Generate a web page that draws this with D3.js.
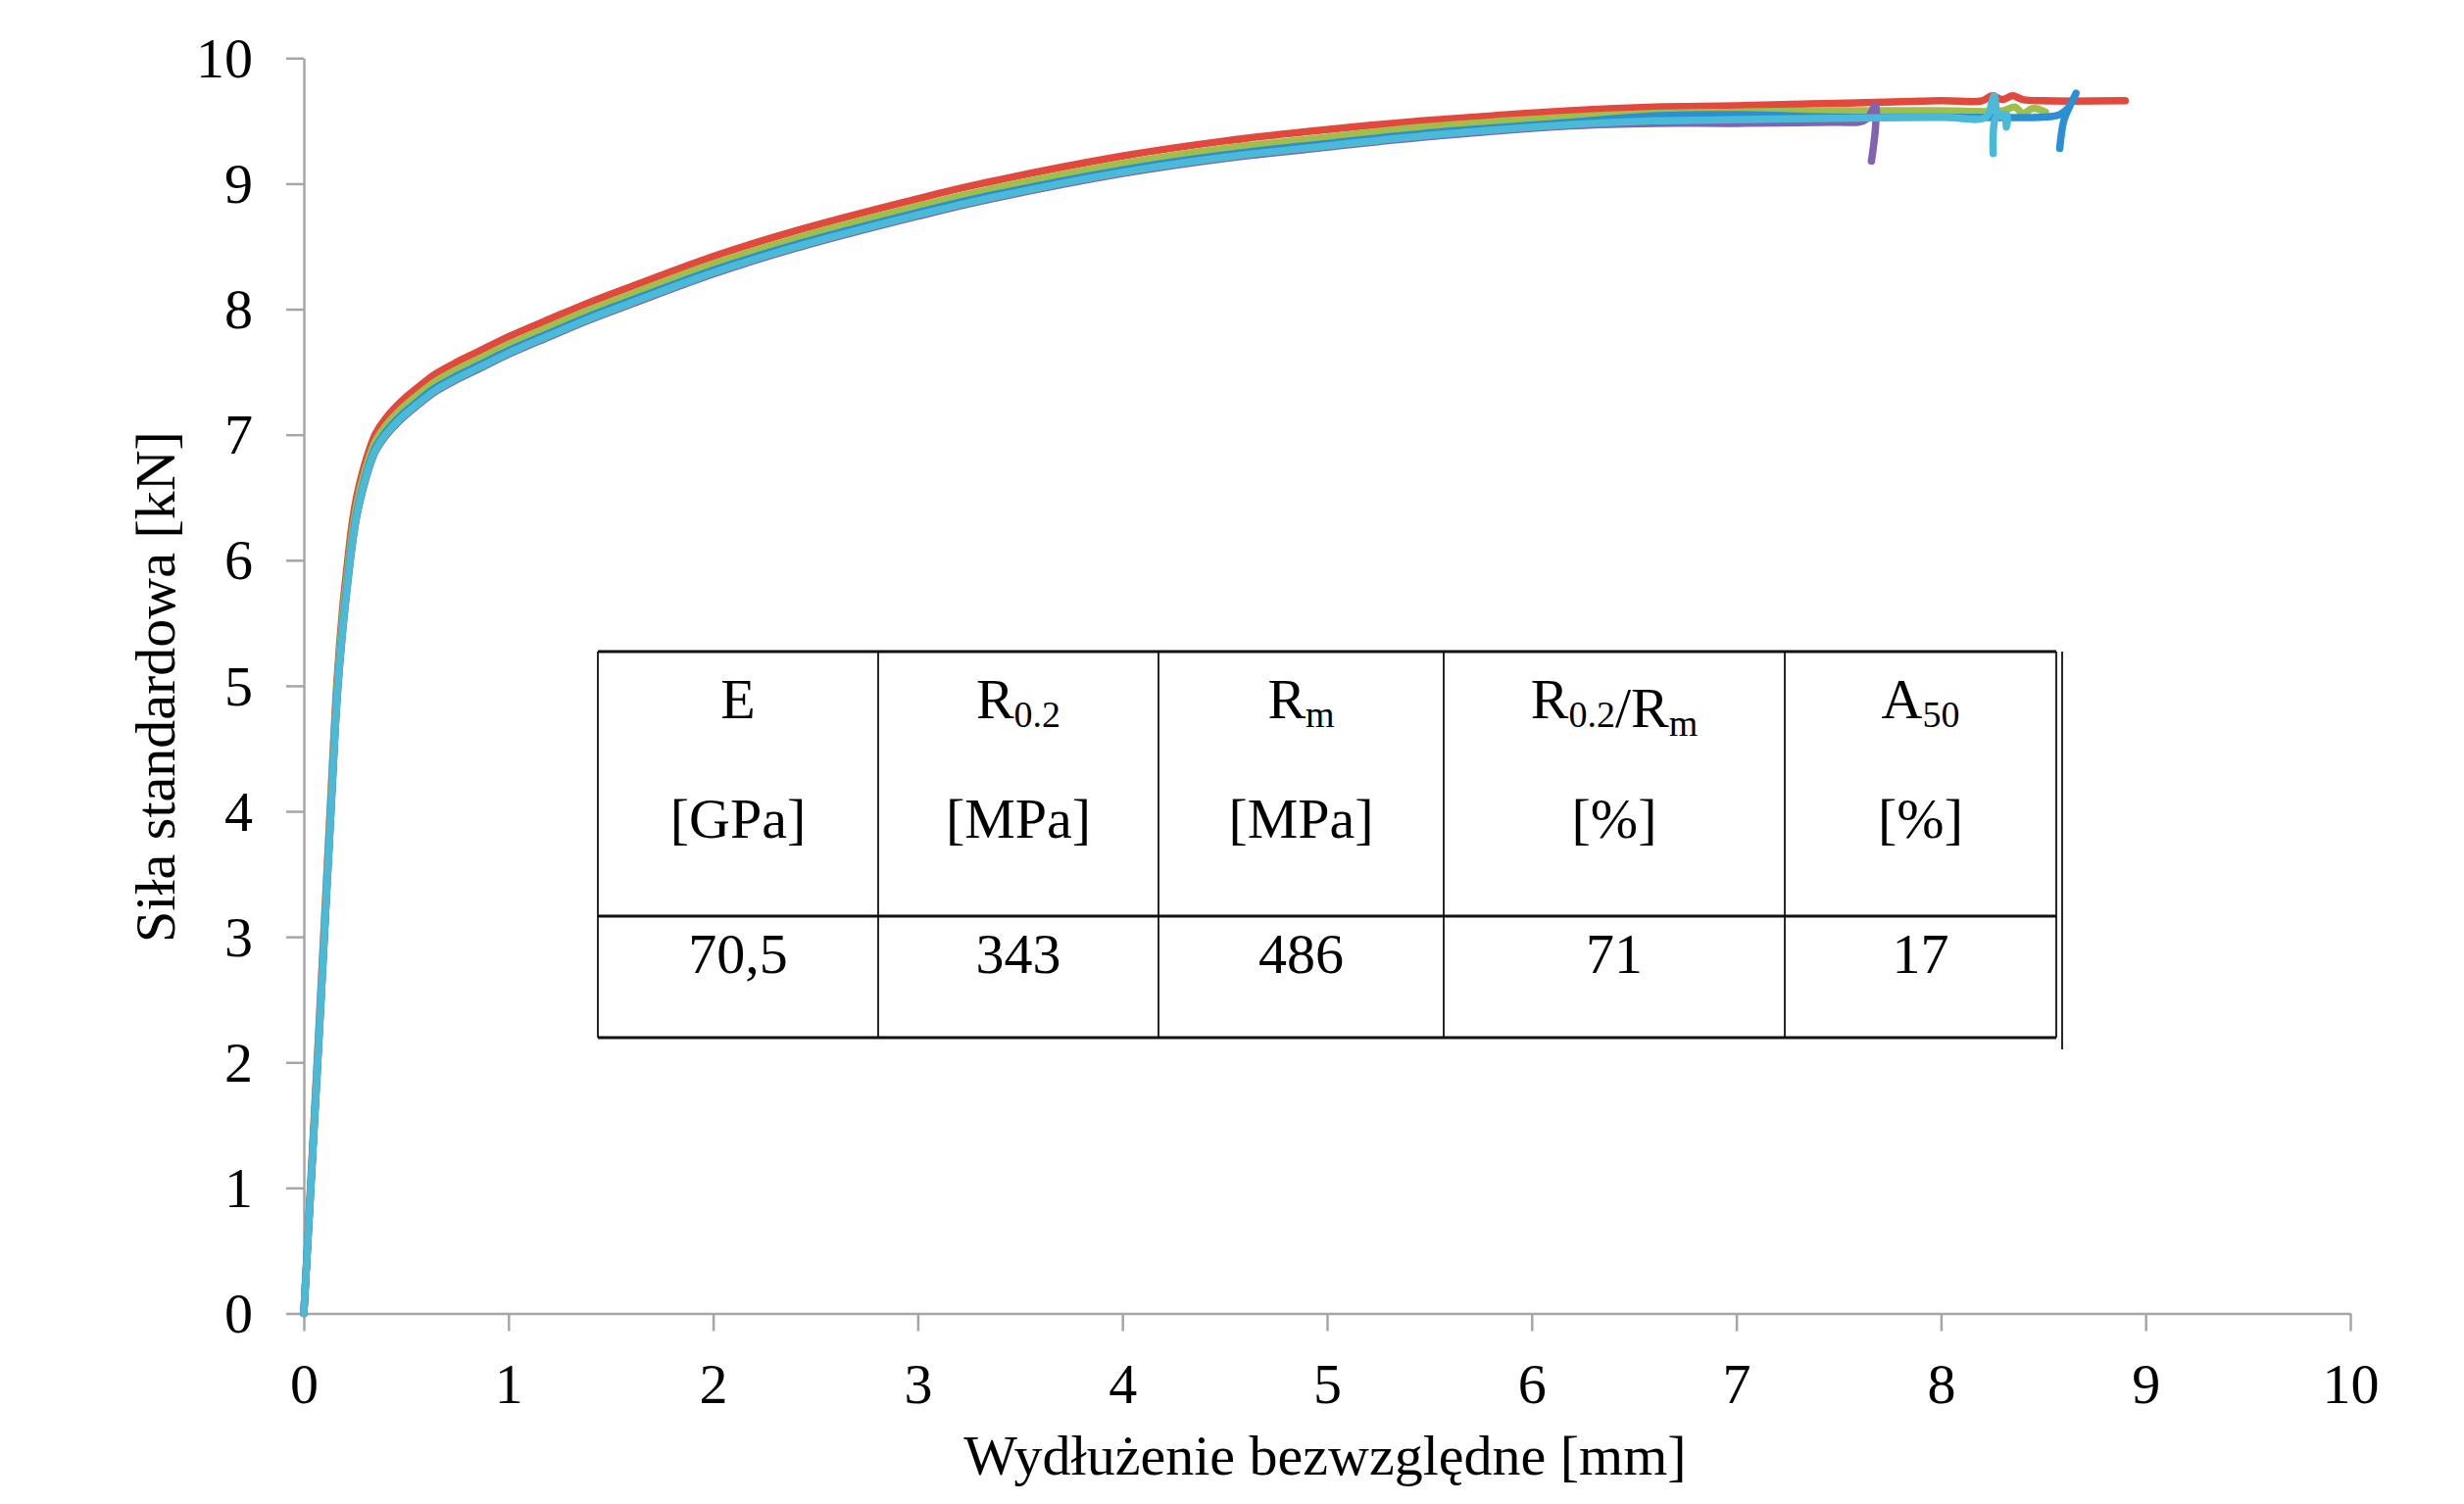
<!DOCTYPE html>
<html>
<head>
<meta charset="utf-8">
<script src="https://cdn.jsdelivr.net/npm/d3@7"></script>
<style>
  body { margin: 0; background: #fff; }
  text { font-family: "Liberation Serif", "Times New Roman", serif; fill: #000; }
</style>
</head>
<body>
<div id="container"></div>
<script>
// elongation grid shared by all specimens [mm]
var strainGrid = [0, 0.033, 0.066, 0.098, 0.13, 0.163, 0.19, 0.21, 0.235, 0.26, 0.29, 0.32, 0.351, 0.40, 0.48, 0.56, 0.64, 0.75, 0.85, 1.0, 1.2, 1.39, 1.6, 2.0, 2.415, 3.0, 3.31, 4.0, 4.5, 5.0, 5.47, 6.19, 6.6, 7.0, 7.49];

// force [kN] for each specimen on the grid above
var forceRed    = [0, 1.02, 2.03, 3.04, 4.05, 5.06, 5.62, 5.93, 6.28, 6.52, 6.72, 6.88, 7.01, 7.13, 7.27, 7.38, 7.48, 7.58, 7.66, 7.78, 7.92, 8.05, 8.18, 8.42, 8.63, 8.88, 9.0, 9.22, 9.34, 9.43, 9.5, 9.58, 9.61, 9.62, 9.64];
var forceGreen  = [0, 1.0, 2.0, 3.0, 4.0, 5.0, 5.55, 5.85, 6.2, 6.45, 6.66, 6.82, 6.95, 7.07, 7.21, 7.32, 7.42, 7.52, 7.60, 7.72, 7.86, 7.99, 8.12, 8.36, 8.57, 8.82, 8.94, 9.16, 9.28, 9.37, 9.45, 9.53, 9.56, 9.57, 9.58];
var forceBlue   = [0, 0.98, 1.96, 2.95, 3.94, 4.94, 5.47, 5.78, 6.13, 6.39, 6.6, 6.77, 6.9, 7.02, 7.16, 7.27, 7.37, 7.47, 7.55, 7.67, 7.81, 7.94, 8.07, 8.31, 8.52, 8.77, 8.89, 9.11, 9.23, 9.32, 9.4, 9.49, 9.54, 9.55, 9.53];
var forcePurple = [0, 0.96, 1.94, 2.93, 3.92, 4.9, 5.44, 5.75, 6.1, 6.36, 6.57, 6.74, 6.87, 6.99, 7.13, 7.24, 7.34, 7.44, 7.52, 7.64, 7.78, 7.91, 8.04, 8.28, 8.49, 8.74, 8.86, 9.08, 9.2, 9.29, 9.37, 9.46, 9.48, 9.48, 9.49];
var forceAqua   = [0, 0.97, 1.95, 2.94, 3.93, 4.92, 5.45, 5.76, 6.11, 6.37, 6.58, 6.75, 6.88, 7.0, 7.14, 7.25, 7.35, 7.45, 7.53, 7.65, 7.79, 7.92, 8.05, 8.29, 8.5, 8.75, 8.87, 9.09, 9.21, 9.3, 9.38, 9.47, 9.5, 9.51, 9.52];

// end of each test (rupture), [elongation, force]
var tailRed    = [[8.0, 9.66], [8.2, 9.66], [8.25, 9.70], [8.3, 9.67], [8.35, 9.70], [8.4, 9.67], [8.5, 9.66], [8.9, 9.66]];
var tailGreen  = [[8.0, 9.58], [8.3, 9.58], [8.36, 9.61], [8.4, 9.56], [8.45, 9.6], [8.51, 9.57]];
var tailBlue   = [[8.0, 9.53], [8.5, 9.53], [8.58, 9.55], [8.62, 9.6], [8.66, 9.72], [8.63, 9.62], [8.6, 9.5], [8.58, 9.28]];
var tailPurple = [[7.6, 9.49], [7.64, 9.52], [7.68, 9.62], [7.68, 9.45], [7.66, 9.18]];
var tailAqua   = [[8.0, 9.53], [8.22, 9.53], [8.25, 9.66], [8.26, 9.70], [8.28, 9.55], [8.32, 9.55], [8.32, 9.45], [8.31, 9.53], [8.27, 9.53], [8.255, 9.24]];

var xTicks = [0, 1, 2, 3, 4, 5, 6, 7, 8, 9, 10];
var yTicks = [0, 1, 2, 3, 4, 5, 6, 7, 8, 9, 10];

// table of mechanical properties
var tableSymbols = [[["E", ""]], [["R", "0.2"]], [["R", "m"]], [["R", "0.2"], ["/R", "m"]], [["A", "50"]]];
var tableUnits = ["[GPa]", "[MPa]", "[MPa]", "[%]", "[%]"];
var tableValues = ["70,5", "343", "486", "71", "17"];

var series = [
    { color: "#e2483c", force: forceRed, tail: tailRed },
    { color: "#9fbf4a", force: forceGreen, tail: tailGreen },
    { color: "#2b8fd3", force: forceBlue, tail: tailBlue },
    { color: "#8064b0", force: forcePurple, tail: tailPurple },
    { color: "#4bbad6", force: forceAqua, tail: tailAqua }
];

var svgWidth = 2514, svgHeight = 1535;

var svg = d3.select("div#container")
    .append("svg")
    .attr("width", svgWidth)
    .attr("height", svgHeight);

var x = d3.scaleLinear().domain([0, 10]).range([310, 2398]);
var y = d3.scaleLinear().domain([0, 10]).range([1340.5, 59.3]);

var axisColor = "#a6a6a6";

// X axis
var gx = svg.append("g")
    .attr("transform", "translate(0," + y(0) + ")")
    .call(d3.axisBottom(x).tickValues(xTicks).tickSize(18).tickSizeOuter(0).tickFormat(d3.format("d")));

// Y axis
var gy = svg.append("g")
    .attr("transform", "translate(" + x(0) + ",0)")
    .call(d3.axisLeft(y).tickValues(yTicks).tickSize(18).tickSizeOuter(0).tickFormat(d3.format("d")));

[gx, gy].forEach(function (g) {
    g.select(".domain").attr("stroke", axisColor).attr("stroke-width", 2.5);
    g.selectAll(".tick line").attr("stroke", axisColor).attr("stroke-width", 2.5);
    g.selectAll(".tick text")
        .attr("fill", "#000")
        .style("font-size", "58px")
        .style("font-family", "'Liberation Serif', 'Times New Roman', serif");
});
gx.selectAll(".tick text").attr("y", 91).attr("dy", null);
gy.selectAll(".tick text").attr("x", -52).attr("dy", "0.33em");

// curves
var line = d3.line()
    .x(function (d) { return x(d[0]); })
    .y(function (d) { return y(d[1]); })
    .curve(d3.curveCatmullRom.alpha(0.5));

series.forEach(function (s) {
    var pts = strainGrid.map(function (e, i) { return [e, s.force[i]]; }).concat(s.tail);
    svg.append("path")
        .datum(pts)
        .attr("d", line)
        .attr("fill", "none")
        .attr("stroke", s.color)
        .attr("stroke-width", 7.5)
        .attr("stroke-linejoin", "round")
        .attr("stroke-linecap", "round");
});

// axis titles
svg.append("text")
    .attr("x", 1352)
    .attr("y", 1505)
    .attr("text-anchor", "middle")
    .style("font-size", "58px")
    .text("Wydłużenie bezwzględne [mm]");

svg.append("text")
    .attr("transform", "translate(178,701) rotate(-90)")
    .attr("text-anchor", "middle")
    .style("font-size", "58px")
    .text("Siła standardowa [kN]");

// table
var colEdges = [610, 896, 1182, 1473, 1821, 2098];
var rowTop = 665, rowMid = 935, rowBottom = 1059;
var table = svg.append("g");

table.append("rect")
    .attr("x", colEdges[0]).attr("y", rowTop)
    .attr("width", colEdges[5] - colEdges[0]).attr("height", rowBottom - rowTop)
    .attr("fill", "#fff");

colEdges.forEach(function (cx) {
    table.append("line")
        .attr("x1", cx).attr("x2", cx)
        .attr("y1", rowTop).attr("y2", rowBottom)
        .attr("stroke", "#111").attr("stroke-width", 1.8);
});
[rowTop, rowMid, rowBottom].forEach(function (ry) {
    table.append("line")
        .attr("x1", colEdges[0]).attr("x2", colEdges[5])
        .attr("y1", ry).attr("y2", ry)
        .attr("stroke", "#111").attr("stroke-width", 3);
});
table.append("line")
    .attr("x1", 2104).attr("x2", 2104)
    .attr("y1", rowTop).attr("y2", 1071)
    .attr("stroke", "#111").attr("stroke-width", 1.8);

tableSymbols.forEach(function (parts, i) {
    var cx = (colEdges[i] + colEdges[i + 1]) / 2;
    var t = table.append("text")
        .attr("x", cx).attr("y", 733)
        .attr("text-anchor", "middle")
        .style("font-size", "58px");
    parts.forEach(function (p) {
        t.append("tspan").text(p[0]);
        if (p[1]) {
            t.append("tspan").attr("dy", 9).style("font-size", "38px").text(p[1]);
            t.append("tspan").attr("dy", -9).text("");
        }
    });

    table.append("text")
        .attr("x", cx).attr("y", 855)
        .attr("text-anchor", "middle")
        .style("font-size", "58px")
        .text(tableUnits[i]);

    table.append("text")
        .attr("x", cx).attr("y", 993)
        .attr("text-anchor", "middle")
        .style("font-size", "58px")
        .text(tableValues[i]);
});
</script>
</body>
</html>
